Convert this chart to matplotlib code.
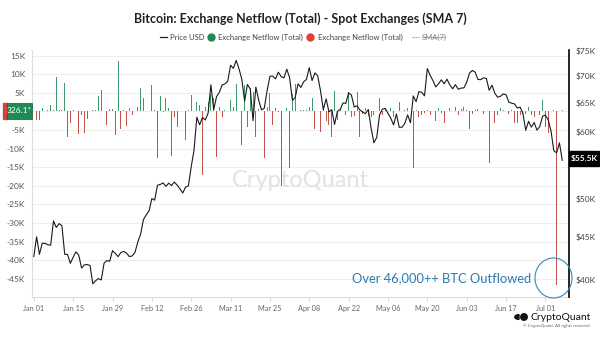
import matplotlib
matplotlib.use("Agg")
import matplotlib.pyplot as plt
import numpy as np
from matplotlib.patches import Ellipse, Rectangle, Wedge
from matplotlib.lines import Line2D
from matplotlib.ticker import NullLocator, FixedLocator

# ---------------- data ----------------
# BTC price (thousand USD), daily from Jan 01 to Jul 07
price_k = [
    # Jan
    42.6, 44.96, 42.85, 44.18, 44.16, 43.99, 43.94, 46.97, 46.14, 46.63, 46.37, 42.85, 42.84, 41.80, 42.51, 43.15,
    42.74, 41.26, 41.62, 41.67, 41.55, 39.51, 39.85, 40.08, 39.93, 41.82, 42.12, 42.04, 43.29, 42.95, 42.58,
    # Feb
    43.08, 43.19, 42.99, 42.58, 42.66, 43.08, 44.32, 45.30, 47.15, 47.77, 48.29, 49.96, 49.74, 51.83, 51.94,
    52.16, 51.66, 52.12, 51.78, 52.28, 51.84, 51.30, 50.73, 51.57, 51.73, 54.52, 57.09, 62.50, 61.20,
    # Mar
    62.44, 62.03, 63.17, 68.33, 63.80, 66.11, 66.93, 68.30, 68.50, 69.02, 72.12, 71.48, 73.08, 71.40, 69.40,
    65.32, 68.39, 67.55, 61.91, 67.91, 65.49, 63.78, 64.06, 67.23, 69.96, 69.99, 69.46, 70.74, 69.89, 69.65, 71.33,
    # Apr
    69.70, 65.45, 65.98, 68.51, 67.84, 68.90, 69.36, 71.63, 69.14, 70.59, 70.06, 67.20, 63.82, 65.74, 63.43,
    63.81, 61.28, 63.51, 63.84, 64.99, 64.93, 66.84, 66.41, 64.28, 64.48, 63.76, 63.42, 63.11, 63.84, 60.64,
    # May
    58.25, 59.12, 62.89, 63.89, 64.03, 63.16, 62.33, 61.19, 63.05, 60.79, 60.79, 61.45, 62.90, 61.55, 66.27,
    65.23, 67.05, 66.94, 66.28, 71.45, 70.14, 69.12, 67.93, 68.53, 69.27, 68.52, 69.39, 68.30, 67.58, 68.36, 67.49,
    # Jun
    67.71, 67.75, 68.80, 70.57, 71.08, 70.76, 69.34, 69.31, 69.65, 69.54, 67.31, 68.26, 66.77, 66.04, 66.19,
    66.64, 66.49, 65.14, 64.96, 64.83, 64.10, 64.25, 63.18, 60.28, 61.80, 60.81, 61.60, 60.32, 60.89, 62.68,
    # Jul
    62.85, 62.03, 60.17, 56.98, 56.66, 58.24, 55.5,
]

# Exchange netflow (thousand BTC), daily from Jan 01 to Jul 07
netflow_k = [
    0.0, -2.3, -2.3, 0.8, 2.8, 0.5, 1.7, 0.5, 9.2, 0.3, 0.3, 7.7, -6.8, -3.2, 0.5, 0.4,
    -6.1, -1.0, -5.8, -2.0, 0.5, 0.5, 0.5, 4.0, 5.8, 0.2, -3.6, 0.6, 0.6, -6.3, 13.5,
    -4.8, 0.3, -3.9, 1.0, -0.9, -2.7, 1.3, 6.4, 3.5, 0.2, 0.0, 7.1, 0.3, -12.6, 4.0,
    -0.2, 3.5, 0.8, -12.1, -1.6, -4.1, 8.2, 0.2, -7.7, 0.3, 4.4, -2.3, 2.4, 1.7,
    -17.1, 1.3, 2.5, 4.6, 3.7, -12.3, 1.3, -1.6, 0.3, 0.0, 3.1, 1.3, 7.3, -7.9, -9.0,
    7.1, -4.1, 6.2, 5.3, -6.9, 0.6, 0.2, -12.6, 1.3, 4.9, -3.6, 0.8, -0.3, -20.0, 0.4,
    0.8, -15.3, 4.6, 7.3, 0.5, 0.5, 0.3, 0.5, 1.3, 3.5, -4.8, 0.2, -5.5, 0.6, -2.7,
    -3.6, -6.9, 5.5, -2.3, 0.9, 1.5, -1.0, 5.1, -1.6, -1.2, 5.2, -6.8, -0.7, 0.9, -1.2,
    -1.4, -1.0, 0.2, 3.5, -1.0, 0.9, -1.6, 0.9, -1.6, 0.2, 2.4, -0.7, 0.4, 0.9, 0.2,
    -15.3, 0.4, -1.4, -1.0, -0.5, 0.4, -1.0, -2.7, -2.7, 0.9, -0.5, -3.2, -1.8, 0.9, 0.2,
    1.3, -1.0, 0.6, 1.3, 0.4, -4.8, -0.7, 0.4, 0.6, 0.2, -0.7, 0.2, -13.9, -2.7, -3.2,
    -1.0, 0.9, 0.3, -0.5, -0.7, 0.4, -3.2, -3.2, -1.0, -0.7, -0.7, 1.3, -1.0, -1.4, -1.8,
    -1.0, 3.1, -4.1, -5.9, 0.2, 0.3, -46.6, 0.2, 0.3261,
]

tick_labels = ["Jan 01", "Jan 15", "Jan 29", "Feb 12", "Feb 26", "Mar 11", "Mar 25",
               "Apr 08", "Apr 22", "May 06", "May 20", "Jun 03", "Jun 17", "Jul 01"]
tick_days = [0, 14, 28, 42, 56, 70, 84, 98, 112, 126, 140, 154, 168, 182]
left_ticks_k = [15, 10, 5, 0, -5, -10, -15, -20, -25, -30, -35, -40, -45]
right_ticks_k = [40, 45, 50, 60, 65, 70, 75]

GREEN = "#3f9a6c"
RED = "#c4534b"
FONT = ["Lato", "DejaVu Sans"]
plt.rcParams["font.family"] = FONT

W, H = 600, 340
def fx(x):
    return x / W
def fy(y):
    return 1 - y / H

fig = plt.figure(figsize=(6, 3.4), dpi=100)
fig.patch.set_facecolor("white")
ax = fig.add_axes([fx(32), fy(297), (569 - 32) / W, (297 - 50) / H])

days = np.arange(len(price_k))
net = np.array(netflow_k) * 1000
ncol = [GREEN if v >= 0 else RED for v in net]
ax.bar(days[:len(net)], net, width=0.32, color=ncol, linewidth=0, zorder=2)

ax.set_xlim(-0.64, 190.4)
ax.set_ylim(-49900, 16500)
ax.set_yticks([v * 1000 for v in left_ticks_k])
# the "0" label is covered by the last-value box in the reference
ax.set_yticklabels(["" if v == 0 else f"{v}K" for v in left_ticks_k])
ax.tick_params(axis="y", length=0, pad=5, labelsize=6, labelcolor="#555555")
ax.set_xticks(tick_days)
ax.set_xticklabels(tick_labels)
ax.tick_params(axis="x", length=3, width=0.6, color="#cccccc", pad=3,
               labelsize=5.3, labelcolor="#666666")
ax.grid(axis="y", color="#eeeeee", lw=0.7)
ax.set_axisbelow(True)
for s in ["top", "right"]:
    ax.spines[s].set_visible(False)
ax.spines["left"].set_color("#dddddd")
ax.spines["bottom"].set_color("#dddddd")
ax.spines["left"].set_linewidth(0.8)
ax.spines["bottom"].set_linewidth(0.8)

# watermark
ax.text(0.5, 0.47, "CryptoQuant", transform=ax.transAxes, ha="center", va="center",
        fontsize=17, color="#e2e2e2", zorder=1)

ax2 = ax.twinx()
ax2.set_yscale("log")
ax2.plot(days, np.array(price_k) * 1000, color="#1a1a1a", lw=0.8, zorder=3)
ax2.set_ylim(38100, 75200)
ax2.yaxis.set_major_locator(FixedLocator([v * 1000 for v in right_ticks_k]))
ax2.yaxis.set_minor_locator(NullLocator())
ax2.set_yticklabels([f"${v}K" for v in right_ticks_k])
ax2.tick_params(axis="y", length=0, pad=5, labelsize=6, labelcolor="#444444")
for s in ["top", "left", "bottom"]:
    ax2.spines[s].set_visible(False)
ax2.spines["right"].set_color("black")
ax2.spines["right"].set_linewidth(1.2)

# title
fig.text(0.5, fy(19), "Bitcoin: Exchange Netflow (Total) - Spot Exchanges (SMA 7)",
         ha="center", va="center", fontsize=9.0, fontweight="bold", color="#222222")

# legend
ly = fy(37)
fig.add_artist(Line2D([fx(160), fx(167)], [ly, ly], color="#222222", lw=0.9, transform=fig.transFigure))
fig.text(fx(170), ly, "Price USD", fontsize=5.5, color="#444444", va="center")
fig.add_artist(Line2D([fx(211)], [ly], marker="o", markersize=5, color="#1e8a56", transform=fig.transFigure))
fig.text(fx(218), ly, "Exchange Netflow (Total)", fontsize=5.5, color="#444444", va="center")
fig.add_artist(Line2D([fx(310)], [ly], marker="o", markersize=5, color="#e2403b", transform=fig.transFigure))
fig.text(fx(318), ly, "Exchange Netflow (Total)", fontsize=5.5, color="#444444", va="center")
fig.add_artist(Line2D([fx(412), fx(419)], [ly, ly], color="#999999", lw=0.8, ls=(0, (1.5, 1)),
                      transform=fig.transFigure))
fig.text(fx(422), ly, "SMA(7)", fontsize=5.5, color="#888888", va="center")
fig.add_artist(Line2D([fx(422), fx(445)], [ly, ly], color="#888888", lw=0.5, transform=fig.transFigure))

# last value boxes
fig.add_artist(Rectangle((fx(3), fy(119)), fx(4), (119 - 103) / H, color="#d8413a",
                         transform=fig.transFigure, zorder=5))
fig.add_artist(Rectangle((fx(7), fy(119)), fx(25), (119 - 103) / H, facecolor="#1f8a55",
                         edgecolor="#145c38", lw=0.5, transform=fig.transFigure, zorder=6))
fig.text(fx(19.5), fy(111), "326.1*", fontsize=6, color="white", ha="center", va="center", zorder=7)

fig.add_artist(Rectangle((fx(569), fy(166)), fx(30), (166 - 151) / H, color="black",
                         transform=fig.transFigure, zorder=5))
fig.text(fx(584), fy(158.5), "$55.5K", fontsize=6, color="white", ha="center", va="center",
         fontweight="bold", zorder=7)

# annotation
fig.text(fx(442), fy(278), "Over 46,000++ BTC Outflowed", fontsize=9.3, color="#2a7bb0",
         ha="center", va="center", zorder=8)
fig.add_artist(Ellipse((fx(553.5), fy(278)), 37 / W, 40 / H, fill=False, edgecolor="#3a86b4",
                       lw=0.8, transform=fig.transFigure, zorder=8))

# logo
fig.add_artist(Wedge((fx(519), fy(317)), 4.2 / W, 90, 270, color="#111111", transform=fig.transFigure))
fig.add_artist(Ellipse((fx(524), fy(317)), 6.5 / W, 6.5 / H, color="#111111", transform=fig.transFigure))
fig.text(fx(591), fy(317), "CryptoQuant", fontsize=7.5, color="#111111", ha="right", va="center")
fig.text(fx(591), fy(325.5), "\u00a9 CryptoQuant. All rights reserved.", fontsize=3.2,
         color="#666666", ha="right", va="center")

fig.savefig("out.png", dpi=100, facecolor="white")
